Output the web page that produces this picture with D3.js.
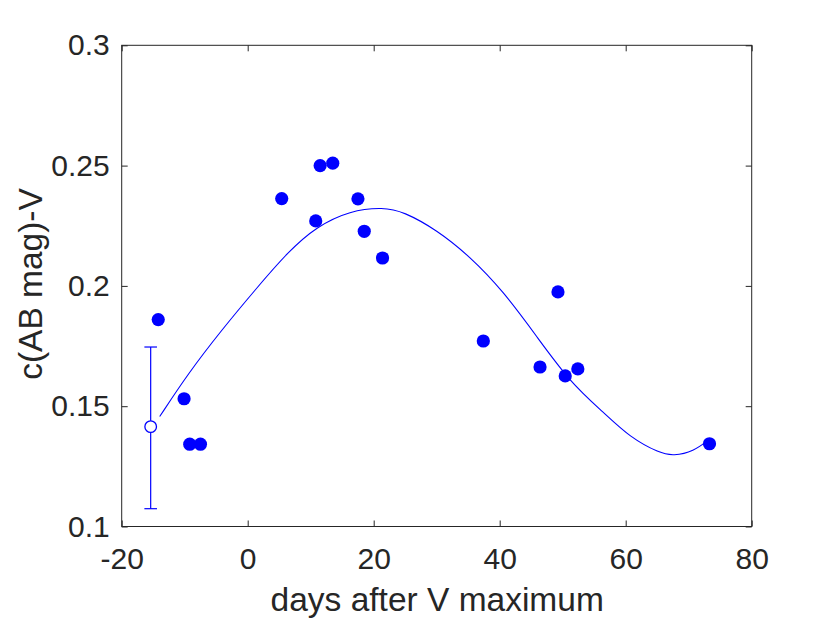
<!DOCTYPE html>
<html><head><meta charset="utf-8">
<script src="https://cdn.jsdelivr.net/npm/d3@7"></script>
<style>body{margin:0;background:#fff}svg{display:block}text{font-family:"Liberation Sans",Arial,sans-serif;fill:#262626}</style>
</head><body>
<svg id="c" width="830" height="623"></svg>
<script>
// Data
const days = [-14.2, -10.1, -9.2, -7.5, 5.4, 10.8, 11.5, 13.5, 17.5, 18.5, 21.4, 37.4, 46.4, 49.25, 50.4, 52.4, 73.3];
const colour = [0.186, 0.1531, 0.1342, 0.1342, 0.2363, 0.2270, 0.2500, 0.2510, 0.2362, 0.2227, 0.2116, 0.1771, 0.1663, 0.1975, 0.1626, 0.1655, 0.1344];
const openDay = [-15.4];
const openVal = [0.1415];
const openLow = [0.1074];
const openHigh = [0.1746];
const fitDays = [-13.97, -9.43, -4.13, 1.16, 6.44, 10.95, 16.24, 21.52, 24.70, 30.0, 35.29, 40.57, 45.87, 51.16, 56.44, 60.68, 65.44, 67.56, 70.73, 73.4];
const fitVals = [0.1457, 0.1637, 0.1817, 0.1983, 0.2143, 0.2247, 0.2313, 0.2327, 0.2309, 0.2233, 0.2122, 0.1978, 0.1790, 0.1600, 0.1475, 0.1370, 0.1304, 0.1294, 0.1311, 0.1365];
const xTicks = [-20, 0, 20, 40, 60, 80];
const yTicks = [0.1, 0.15, 0.2, 0.25, 0.3];
const xLabel = "days after V maximum";
const yLabel = "c(AB mag)-V";

const svg = d3.select("#c");
const L = 121.7, R = 751.7, T = 45.3, B = 526.5;
const x = d3.scaleLinear().domain([-20, 80]).range([L, R]);
const y = d3.scaleLinear().domain([0.1, 0.3]).range([B, T]);
const axc = "#262626", tl = 6, tickFont = 30, labelFont = 33.5;
const fam = "Liberation Sans, Arial, sans-serif";

const g = svg.append("g");
g.append("g").attr("transform", `translate(0,${B})`)
  .call(d3.axisBottom(x).tickValues(xTicks).tickSize(-tl).tickPadding(21.5).tickFormat(d => String(d)))
  .call(a => { a.select(".domain").remove(); a.selectAll("line").attr("stroke", axc);
    a.selectAll("text").attr("font-size", tickFont).attr("fill", axc).attr("font-family", fam); });
g.append("g").attr("transform", `translate(0,${T})`)
  .call(d3.axisTop(x).tickValues(xTicks).tickSize(-tl).tickFormat(""))
  .call(a => { a.select(".domain").remove(); a.selectAll("line").attr("stroke", axc); });
g.append("g").attr("transform", `translate(${L},0)`)
  .call(d3.axisLeft(y).tickValues(yTicks).tickSize(-tl).tickPadding(12).tickFormat(d => String(d)))
  .call(a => { a.select(".domain").remove(); a.selectAll("line").attr("stroke", axc);
    a.selectAll("text").attr("font-size", tickFont).attr("fill", axc).attr("font-family", fam); });
g.append("g").attr("transform", `translate(${R},0)`)
  .call(d3.axisRight(y).tickValues(yTicks).tickSize(-tl).tickFormat(""))
  .call(a => { a.select(".domain").remove(); a.selectAll("line").attr("stroke", axc); });
g.append("rect").attr("x", L).attr("y", T).attr("width", R - L).attr("height", B - T)
  .attr("fill", "none").attr("stroke", axc).attr("stroke-width", 1);

// fit curve
const fit = fitDays.map((d, i) => [d, fitVals[i]]);
svg.append("path").datum(fit)
  .attr("d", d3.line().x(d => x(d[0])).y(d => y(d[1])).curve(d3.curveBasis))
  .attr("fill", "none").attr("stroke", "#0000ff").attr("stroke-width", 1.1);

// error bar
openDay.forEach((d, i) => {
  const cx = x(d), w = 6.3;
  svg.append("line").attr("x1", cx).attr("x2", cx).attr("y1", y(openLow[i])).attr("y2", y(openHigh[i])).attr("stroke", "#0000ff").attr("stroke-width", 1.2);
  [openLow[i], openHigh[i]].forEach(v => svg.append("line").attr("x1", cx - w).attr("x2", cx + w).attr("y1", y(v)).attr("y2", y(v)).attr("stroke", "#0000ff").attr("stroke-width", 1.2));
  svg.append("circle").attr("cx", cx).attr("cy", y(openVal[i])).attr("r", 5.8).attr("fill", "#fff").attr("stroke", "#0000ff").attr("stroke-width", 1.3);
});

// points
svg.append("g").selectAll("circle").data(days.map((d, i) => [d, colour[i]])).join("circle")
  .attr("cx", d => x(d[0])).attr("cy", d => y(d[1])).attr("r", 6.6).attr("fill", "#0000ff");

// labels
svg.append("text").attr("x", (L + R) / 2 + 0.5).attr("y", 611).attr("text-anchor", "middle").attr("font-size", labelFont).text(xLabel);
svg.append("text").attr("transform", `translate(42,284) rotate(-90)`).attr("text-anchor", "middle").attr("font-size", labelFont).text(yLabel);
</script>
</body></html>
